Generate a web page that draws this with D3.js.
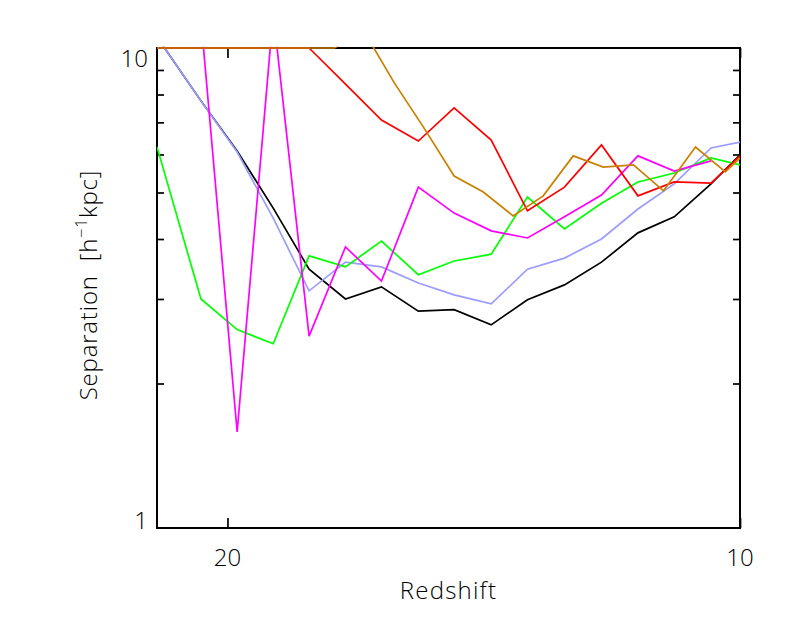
<!DOCTYPE html>
<html>
<head>
<meta charset="utf-8">
<script src="https://cdn.jsdelivr.net/npm/d3@7"></script>
<style>
  html, body { margin: 0; padding: 0; background: #fff; }
  svg { display: block; }
  text { font-family: "Open Sans", "DejaVu Sans", sans-serif; font-weight: 300; fill: #000; }
</style>
</head>
<body>
<svg id="chart" width="786" height="629"></svg>
<script>
// ---- data ----
const redshiftMain = [22.00, 20.73, 19.74, 18.80, 17.91, 17.05, 16.24, 15.45, 14.72, 14.00, 13.33, 12.68, 12.06, 11.48, 10.93, 10.40, 10.00];
const redshiftOrange = [22.00, 21.21, 20.37, 19.56, 18.78, 18.03, 17.31, 16.62, 15.96, 15.33, 14.72, 14.15, 13.59, 13.05, 12.53, 12.03, 11.55, 11.09, 10.62, 10.20, 10.00];

const sepBlack   = [10.54, 7.76, 6.10, 4.64, 3.46, 3.00, 3.18, 2.83, 2.85, 2.65, 2.99, 3.21, 3.58, 4.12, 4.45, 5.21, 5.99];
const sepBlue    = [10.54, 7.76, 6.07, 4.42, 3.12, 3.58, 3.50, 3.24, 3.06, 2.93, 3.46, 3.65, 4.00, 4.62, 5.21, 6.19, 6.37];
const sepGreen   = [6.22, 3.00, 2.59, 2.42, 3.69, 3.50, 3.96, 3.37, 3.60, 3.72, 4.89, 4.20, 4.75, 5.26, 5.49, 5.90, 5.71];
const sepMagenta = [10.4, 11.5, 1.585, 11.8, 2.51, 3.85, 3.27, 5.13, 4.53, 4.16, 4.02, 4.45, 4.94, 5.96, 5.54, 5.82, null];
const sepRed     = [10, 10, 10, 10, 10, 8.41, 7.08, 6.40, 7.50, 6.43, 4.58, 5.13, 6.28, 4.92, 5.26, 5.23, 5.96];
const sepOrange  = [10, 10, 10, 10, 10, 10, 10, 10.8, 8.46, 6.81, 5.41, 5.01, 4.47, 4.92, 5.96, 5.65, 5.71, 5.04, 6.22, 5.52, 5.90];

const xTickValues = [20, 10];
const xTickLabels = ["20", "10"];
const yTickValues = [1, 10];
const yTickLabels = ["1", "10"];
const yMinorTicks = [2, 3, 4, 5, 6, 7, 8, 9];

const series = [
  { x: redshiftMain,   y: sepBlack,   color: "#000000" },
  { x: redshiftMain,   y: sepBlue,    color: "#9a9cff" },
  { x: redshiftMain,   y: sepGreen,   color: "#00ff00" },
  { x: redshiftMain,   y: sepMagenta, color: "#ff00ff" },
  { x: redshiftMain,   y: sepRed,     color: "#ff0000" },
  { x: redshiftOrange, y: sepOrange,  color: "#c98000" }
];

// ---- layout ----
const L = 157, R = 740, T = 48, B = 528;
const svg = d3.select("#chart");

const x = d3.scaleLog().domain([22, 10]).range([L, R]);
const y = d3.scaleLog().domain([1, 10]).range([B, T]);

svg.append("defs").append("clipPath").attr("id", "clip")
  .append("rect").attr("x", L).attr("y", T - 1.2).attr("width", R - L).attr("height", B - T + 2.4);

// ---- axes (drawn first so data lines lie over the frame) ----
function styleAxis(g) {
  g.select(".domain").remove();
  g.selectAll("line").attr("stroke", "#000").attr("stroke-width", 1.7);
}

svg.append("rect")
  .attr("x", L).attr("y", T).attr("width", R - L).attr("height", B - T)
  .attr("fill", "none").attr("stroke", "#000").attr("stroke-width", 2);

svg.append("g").attr("transform", `translate(${L},0)`)
  .call(d3.axisLeft(y).tickValues(yMinorTicks).tickSize(-7).tickFormat(""))
  .call(styleAxis);
svg.append("g").attr("transform", `translate(${R},0)`)
  .call(d3.axisRight(y).tickValues(yMinorTicks).tickSize(-7).tickFormat(""))
  .call(styleAxis);

svg.append("g").attr("transform", `translate(0,${B})`)
  .call(d3.axisBottom(x).tickValues(xTickValues).tickSize(-10).tickFormat(""))
  .call(styleAxis);
svg.append("g").attr("transform", `translate(0,${T})`)
  .call(d3.axisTop(x).tickValues(xTickValues).tickSize(-10).tickFormat(""))
  .call(styleAxis);

// ---- data lines ----
const line = d3.line()
  .defined(d => d[1] != null)
  .x(d => x(d[0]))
  .y(d => y(d[1]));

const plot = svg.append("g").attr("clip-path", "url(#clip)");
series.forEach(s => {
  const pts = s.x.map((v, i) => [v, s.y[i]]);
  plot.append("path")
    .attr("d", line(pts))
    .attr("fill", "none")
    .attr("stroke", s.color)
    .attr("stroke-width", 1.7)
    .attr("stroke-linejoin", "miter");
});

// ---- tick labels ----
svg.append("g").selectAll("text").data(xTickValues).join("text")
  .attr("x", d => x(d))
  .attr("y", B + 38)
  .attr("text-anchor", "middle")
  .attr("font-size", 24)
  .text((d, i) => xTickLabels[i]);

svg.append("g").selectAll("text").data(yTickValues).join("text")
  .attr("x", L - 9)
  .attr("y", d => d === 10 ? y(d) + 19 : y(d) + 1)
  .attr("text-anchor", "end")
  .attr("font-size", 24)
  .text((d, i) => yTickLabels[i]);

// ---- axis titles ----
svg.append("text")
  .attr("x", (L + R) / 2)
  .attr("y", 599)
  .attr("text-anchor", "middle")
  .attr("font-size", 24)
  .attr("letter-spacing", 1.2)
  .text("Redshift");

const yt = svg.append("text")
  .attr("transform", `translate(97,${(T + B) / 2 - 3}) rotate(-90)`)
  .attr("text-anchor", "middle")
  .attr("font-size", 24)
  .attr("letter-spacing", 0.8);
yt.append("tspan").text("Separation\u00a0\u00a0[h");
yt.append("tspan").attr("font-size", 16).attr("dy", -10).text("\u2212");
yt.append("tspan").attr("font-size", 16).text("1");
yt.append("tspan").attr("dy", 10).text("kpc]");
</script>
</body>
</html>
